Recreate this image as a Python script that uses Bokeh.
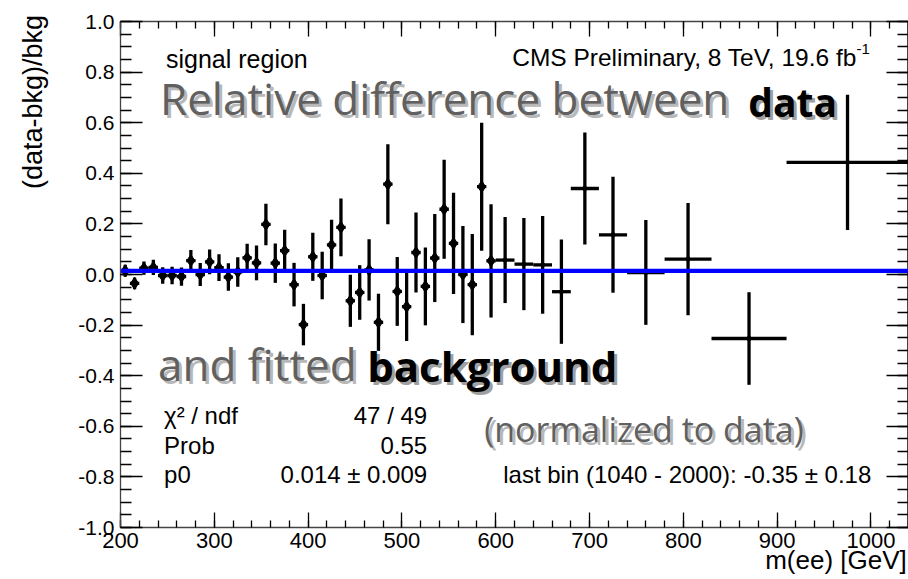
from bokeh.plotting import figure
from bokeh.models import (Range1d, LinearAxis, FixedTicker, NumeralTickFormatter,
                          Label, ColumnDataSource, CustomJSTickFormatter)
from bokeh.embed import file_html
from bokeh.resources import INLINE

# ---------------- data ----------------
# 10 GeV bins, 200 - 600 GeV
fine_lo = [200, 210, 220, 230, 240, 250, 260, 270, 280, 290,
           300, 310, 320, 330, 340, 350, 360, 370, 380, 390,
           400, 410, 420, 430, 440, 450, 460, 470, 480, 490,
           500, 510, 520, 530, 540, 550, 560, 570, 580, 590]
fine_hi = [210, 220, 230, 240, 250, 260, 270, 280, 290, 300,
           310, 320, 330, 340, 350, 360, 370, 380, 390, 400,
           410, 420, 430, 440, 450, 460, 470, 480, 490, 500,
           510, 520, 530, 540, 550, 560, 570, 580, 590, 600]
fine_val = [0.015, -0.035, 0.025, 0.028, -0.004, -0.004, -0.008, 0.055, 0.000, 0.050,
            0.027, -0.010, 0.010, 0.066, 0.046, 0.198, 0.045, 0.094, -0.040, -0.198,
            0.070, -0.004, 0.117, 0.186, -0.104, -0.071, 0.018, -0.189, 0.357, -0.067,
            -0.127, 0.087, -0.047, 0.065, 0.258, 0.123, 0.000, -0.040, 0.347, 0.054]
fine_err = [0.024, 0.023, 0.026, 0.030, 0.033, 0.035, 0.036, 0.042, 0.045, 0.049,
            0.053, 0.054, 0.058, 0.056, 0.069, 0.082, 0.078, 0.083, 0.086, 0.082,
            0.095, 0.094, 0.099, 0.114, 0.103, 0.108, 0.121, 0.113, 0.158, 0.136,
            0.136, 0.158, 0.154, 0.174, 0.196, 0.200, 0.192, 0.200, 0.253, 0.224]

# wide bins, 600 - 1040 GeV
wide_lo = [600, 620, 640, 660, 680, 710, 740, 780, 830, 910]
wide_hi = [620, 640, 660, 680, 710, 740, 780, 830, 910, 1040]
wide_val = [0.057, 0.041, 0.038, -0.068, 0.340, 0.157, 0.008, 0.061, -0.253, 0.443]
wide_err = [0.170, 0.182, 0.193, 0.206, 0.221, 0.229, 0.207, 0.222, 0.183, 0.267]

# constant fit
fit_p0 = 0.014
fit_range = [200, 1040]

x_major = [200, 300, 400, 500, 600, 700, 800, 900, 1000]
y_major = [-1.0, -0.8, -0.6, -0.4, -0.2, 0.0, 0.2, 0.4, 0.6, 0.8, 1.0]

x_title = "m(ee) [GeV]"
y_title = "(data-bkg)/bkg"
stat_names = ["\u03c7\u00b2 / ndf", "Prob", "p0"]
stat_values = ["47 / 49", "0.55", "0.014 \u00b1 0.009"]
last_bin_text = "last bin (1040 - 2000): -0.35 \u00b1 0.18"


def make_source(lo, hi, val, err):
    xc = [(a + b) / 2 for a, b in zip(lo, hi)]
    return ColumnDataSource(dict(
        x=xc, y=val, lo=lo, hi=hi,
        ylo=[v - e for v, e in zip(val, err)],
        yhi=[v + e for v, e in zip(val, err)],
    ))


src_fine = make_source(fine_lo, fine_hi, fine_val, fine_err)
src_wide = make_source(wide_lo, wide_hi, wide_val, wide_err)

# ---------------- figure ----------------
p = figure(width=908, height=579, output_backend="svg", toolbar_location=None,
           x_range=Range1d(200, 1040), y_range=Range1d(-1.0, 1.0),
           x_axis_type=None, y_axis_type=None,
           min_border_left=120, min_border_top=21, min_border_bottom=52,
           min_border_right=0)
p.xgrid.visible = False
p.ygrid.visible = False
p.outline_line_color = "#444444"
p.background_fill_color = "white"
p.border_fill_color = "white"

x_minor = list(range(200, 1041, 20))
y_minor = [round(-1.0 + 0.05 * i, 2) for i in range(41)]
xt = FixedTicker(ticks=x_major, minor_ticks=x_minor)
yt = FixedTicker(ticks=y_major, minor_ticks=y_minor)

ARIAL = "Liberation Sans"
BIG = "Open Sans"
NBSP = "\u00a0"
blank = CustomJSTickFormatter(code="return '';")


def style_axis(ax, major, minor, labels, size, standoff=6):
    ax.axis_line_color = "#444444"
    ax.axis_line_width = 1.3
    ax.major_tick_line_color = "black"
    ax.minor_tick_line_color = "black"
    ax.major_tick_line_width = 1.3
    ax.minor_tick_line_width = 1.3
    ax.major_tick_in = major
    ax.major_tick_out = 0
    ax.minor_tick_in = minor
    ax.minor_tick_out = 0
    if labels:
        ax.major_label_text_font = ARIAL
        ax.major_label_text_font_size = size
        ax.major_label_text_color = "black"
        ax.major_label_standoff = standoff
    else:
        ax.formatter = blank
        ax.major_label_standoff = 0


def style_title(ax, text, pad, size, standoff):
    # leading no-break spaces push the centred title towards the end of the axis
    ax.axis_label = NBSP * pad + text
    ax.axis_label_text_font = ARIAL
    ax.axis_label_text_font_size = size
    ax.axis_label_text_font_style = "normal"
    ax.axis_label_text_color = "black"
    ax.axis_label_standoff = standoff


ax_b = LinearAxis(ticker=xt)
style_axis(ax_b, 15, 7, True, "22px", standoff=5)
style_title(ax_b, x_title, 89, "26px", -6)
p.add_layout(ax_b, "below")
ax_t = LinearAxis(ticker=xt)
style_axis(ax_t, 15, 7, False, None)
p.add_layout(ax_t, "above")

ax_l = LinearAxis(ticker=yt, formatter=NumeralTickFormatter(format="0.0"))
style_axis(ax_l, 22, 11, True, "21px")
style_title(ax_l, y_title, 46, "27px", 27)
p.add_layout(ax_l, "left")
ax_r = LinearAxis(ticker=yt)
style_axis(ax_r, 22, 11, False, None)
p.add_layout(ax_r, "right")

# ---------------- data marks ----------------
for src, msize in ((src_fine, 12), (src_wide, 7)):
    p.segment(x0="x", y0="ylo", x1="x", y1="yhi", source=src,
              line_color="black", line_width=3.3)
    p.segment(x0="lo", y0="y", x1="hi", y1="y", source=src,
              line_color="black", line_width=3.3)
    p.scatter(x="x", y="y", source=src, marker="diamond", size=msize,
              fill_color="black", line_color="black")

p.line(x=fit_range, y=[fit_p0, fit_p0], line_color="#0000ff", line_width=4.3)

# ---------------- texts ----------------


def add_label(text, x, y, font=ARIAL, size="24px", color="black", style="normal",
              align="left"):
    p.add_layout(Label(x=x, y=y, text=text, text_font=font, text_font_size=size,
                       text_color=color, text_font_style=style, text_align=align,
                       text_baseline="alphabetic"))


def add_shadow_label(text, x, y, size, color, shadow, style="normal"):
    p.add_layout(Label(x=x, y=y, text=text, text_font=BIG, text_font_size=size,
                       text_color=shadow, text_font_style=style,
                       x_offset=3, y_offset=-3))
    p.add_layout(Label(x=x, y=y, text=text, text_font=BIG, text_font_size=size,
                       text_color=color, text_font_style=style))


add_label("signal region", 248.5, 0.852, size="25px")
add_label("CMS Preliminary, 8 TeV, 19.6 fb", 617.6, 0.858, size="24.5px")
add_label("-1", 984.5, 0.892, size="15px")

add_shadow_label("Relative difference between", 242.1, 0.581, "44px", "#606060", "#b8b8b8")
add_shadow_label("data", 869.3, 0.581, "39px", "black", "#a0a0a0", style="bold")
add_shadow_label("and fitted", 240.0, -0.474, "44px", "#606060", "#b8b8b8")
add_shadow_label("background", 462.9, -0.474, "42px", "black", "#a0a0a0", style="bold")
add_shadow_label("(normalized to data)", 587.7, -0.70, "34px", "#606060", "#b8b8b8")

stat_y = [-0.557, -0.675, -0.789]
for name, val, yy in zip(stat_names, stat_values, stat_y):
    add_label(name, 246.4, yy, size="24px")
    add_label(val, 526.9, yy, size="24px", align="right")
add_label(last_bin_text, 608.0, -0.789, size="24px")

open("out.html", "w").write(file_html(p, INLINE))
